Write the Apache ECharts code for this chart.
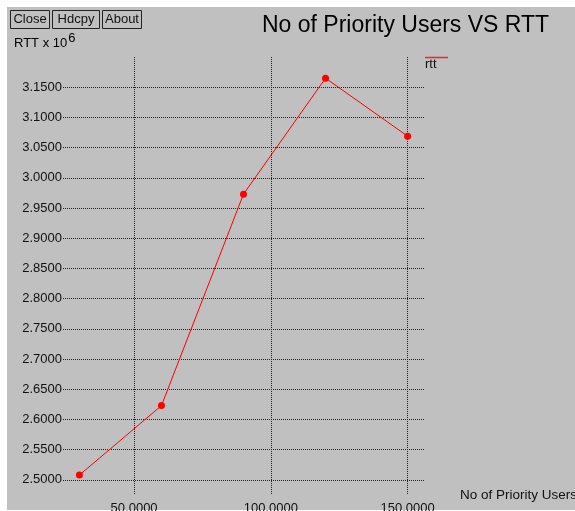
<!DOCTYPE html>
<html>
<head>
<meta charset="utf-8">
<script src="https://cdn.jsdelivr.net/npm/echarts@6/dist/echarts.min.js"></script>
<style>html,body{margin:0;padding:0;background:#fff;}#c{width:575px;height:511px;}</style>
</head>
<body>
<div id="c"></div>
<script>
var users = [30, 60, 90, 120, 150];
var rtt = [2.508, 2.623, 2.973, 3.165, 3.069];
var xTicks = [50, 100, 150];
var yTicks = [2.5, 2.55, 2.6, 2.65, 2.7, 2.75, 2.8, 2.85, 2.9, 2.95, 3.0, 3.05, 3.1, 3.15];
var buttons = ['Close', 'Hdcpy', 'About'];

var FONT = '"Liberation Sans", Arial, sans-serif';
var chart = echarts.init(document.getElementById('c'));

var btnX = [10, 52, 102];
var btnW = [39, 47, 39];
var graphics = [
  { type: 'rect', z: -100, silent: true, shape: { x: 7, y: 7, width: 568, height: 503 }, style: { fill: '#c0c0c0' } }
];
buttons.forEach(function (b, i) {
  graphics.push({ type: 'rect', shape: { x: btnX[i] + 0.5, y: 10.5, width: btnW[i], height: 18 }, style: { fill: '#c0c0c0', stroke: '#222', lineWidth: 1 } });
  graphics.push({ type: 'text', x: btnX[i] + 0.5 + btnW[i] / 2, y: 19.5, style: { text: b, fill: '#111', font: '13px ' + FONT, align: 'center', verticalAlign: 'middle' } });
});
graphics.push({
  type: 'text', x: 14, y: 43,
  style: {
    text: '{a|RTT x 10}{b|6}',
    verticalAlign: 'middle',
    rich: {
      a: { fontSize: 13, fontFamily: FONT, color: '#111' },
      b: { fontSize: 13, fontFamily: FONT, color: '#111', padding: [0, 0, 10, 1] }
    }
  }
});
graphics.push({ type: 'line', shape: { x1: 425, y1: 57.5, x2: 448, y2: 57.5 }, style: { stroke: '#ff2020', lineWidth: 1.5 } });
graphics.push({ type: 'text', x: 425, y: 64, style: { text: 'rtt', fill: '#111', font: '13px ' + FONT, verticalAlign: 'middle' } });

chart.setOption({
  backgroundColor: '#ffffff',
  animation: false,
  title: {
    text: 'No of Priority Users VS RTT',
    left: 257, top: 9,
    textStyle: { fontFamily: FONT, fontSize: 23, fontWeight: 'normal', color: '#000' }
  },
  graphic: graphics,
  grid: { left: 63, right: 151, top: 57, bottom: 16, containLabel: false, outerBoundsMode: 'none' },
  xAxis: {
    type: 'value', min: 24, max: 156,
    name: 'No of Priority Users', nameLocation: 'end', nameGap: 36,
    nameTextStyle: { fontFamily: FONT, fontSize: 13.5, color: '#111', verticalAlign: 'middle', padding: [0, 0, 2, 0] },
    axisLine: { show: false },
    axisTick: { show: false, customValues: xTicks },
    axisLabel: { customValues: xTicks, margin: 7, fontFamily: FONT, fontSize: 13, color: '#111',
      formatter: function (v) { return v.toFixed(4); } },
    splitLine: { show: true, lineStyle: { color: '#222', type: 'dotted', width: 1 } }
  },
  yAxis: {
    type: 'value', min: 2.475, max: 3.2,
    axisLine: { show: false },
    axisTick: { show: false, customValues: yTicks },
    axisLabel: { customValues: yTicks, margin: 1, fontFamily: FONT, fontSize: 13, color: '#111',
      formatter: function (v) { return v.toFixed(4); } },
    splitLine: { show: true, lineStyle: { color: '#222', type: 'dotted', width: 1 } }
  },
  series: [{
    name: 'rtt', type: 'line',
    data: users.map(function (u, i) { return [u, rtt[i]]; }),
    lineStyle: { color: '#ff0000', width: 1 },
    itemStyle: { color: '#ff0000' },
    symbol: 'circle', symbolSize: 7,
    z: 5
  }]
});
</script>
</body>
</html>
